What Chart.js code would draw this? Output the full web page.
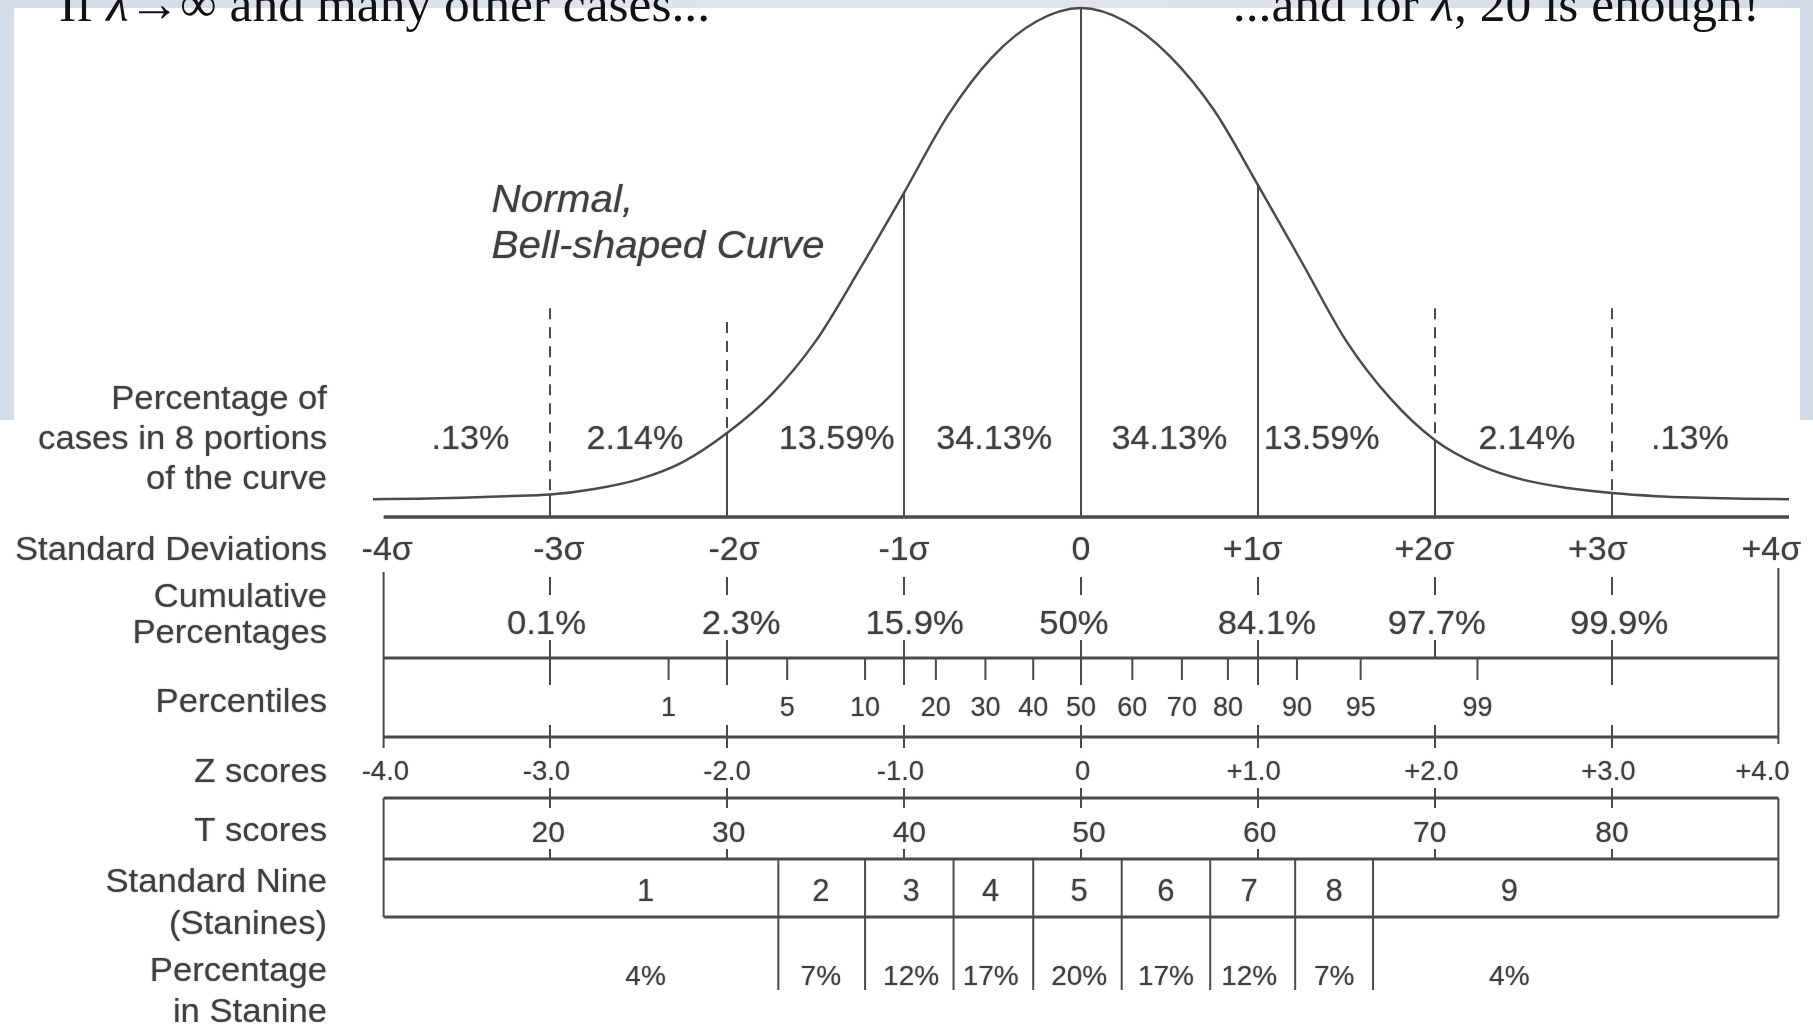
<!DOCTYPE html>
<html>
<head>
<meta charset="utf-8">
<script src="https://cdn.jsdelivr.net/npm/chart.js@4.4.1/dist/chart.umd.min.js"></script>
<style>
  html, body { margin: 0; padding: 0; background: #fff; overflow: hidden; }
  canvas { display: block; }
</style>
</head>
<body>
<canvas id="bell" width="1813" height="1028"></canvas>
<script>
// curve: x in sigma units, height relative to the peak
const curveSigma = [-4, -3.75, -3.5, -3.25, -3, -2.75, -2.5, -2.25, -2, -1.75, -1.5, -1.25, -1, -0.75, -0.5, -0.25, 0,
  0.25, 0.5, 0.75, 1, 1.25, 1.5, 1.75, 2, 2.25, 2.5, 2.75, 3, 3.25, 3.5, 3.75, 4]
const curveHeight = [0.035, 0.036, 0.038, 0.041, 0.044, 0.055, 0.074, 0.108, 0.165, 0.240, 0.345, 0.487, 0.637, 0.790, 0.904, 0.974, 1.0,
  0.974, 0.906, 0.800, 0.652, 0.499, 0.345, 0.232, 0.151, 0.102, 0.073, 0.057, 0.047, 0.041, 0.038, 0.036, 0.035]

const sigmaMarks = [-3, -2, -1, 0, 1, 2, 3]
const dashedMarks = [-3, -2, 2, 3]
const dashTop = [0.41, 0.383, 0.41, 0.41]

const portionLabels = ['.13%', '2.14%', '13.59%', '34.13%', '34.13%', '13.59%', '2.14%', '.13%']
const portionPos = [-3.45, -2.52, -1.38, -0.49, 0.50, 1.36, 2.52, 3.44]

const sigmaLabels = ['-4σ', '-3σ', '-2σ', '-1σ', '0', '+1σ', '+2σ', '+3σ', '+4σ']
const sigmaLabelPos = [-3.92, -2.95, -1.96, -1.0, 0, 0.97, 1.94, 2.92, 3.9]

const cumulativeLabels = ['0.1%', '2.3%', '15.9%', '50%', '84.1%', '97.7%', '99.9%']
const cumulativePos = [-3.02, -1.92, -0.94, -0.04, 1.05, 2.01, 3.04]

const percentileLabels = ['1', '5', '10', '20', '30', '40', '50', '60', '70', '80', '90', '95', '99']
const percentileZ = [-2.33, -1.66, -1.22, -0.82, -0.54, -0.27, 0, 0.29, 0.57, 0.83, 1.22, 1.58, 2.24]

const zLabels = ['-4.0', '-3.0', '-2.0', '-1.0', '0', '+1.0', '+2.0', '+3.0', '+4.0']
const zPos = [-3.93, -3.02, -2.0, -1.02, 0.01, 0.975, 1.98, 2.98, 3.85]

const tLabels = ['20', '30', '40', '50', '60', '70', '80']
const tPos = [-3.01, -1.99, -0.97, 0.045, 1.01, 1.97, 3.0]

const stanineLabels = ['1', '2', '3', '4', '5', '6', '7', '8', '9']
const stanineCenters = [-2.46, -1.47, -0.96, -0.51, -0.01, 0.48, 0.95, 1.43, 2.42]
const stanineBounds = [-1.71, -1.22, -0.72, -0.27, 0.23, 0.73, 1.21, 1.65]
const staninePercents = ['4%', '7%', '12%', '17%', '20%', '17%', '12%', '7%', '4%']

const rowLabels = ['Percentage of', 'cases in 8 portions', 'of the curve', 'Standard Deviations', 'Cumulative', 'Percentages',
  'Percentiles', 'Z scores', 'T scores', 'Standard Nine', '(Stanines)', 'Percentage', 'in Stanine']

const headerLeft = [['If ', false], ['λ', true], ['→∞ and many other cases...', false]]
const headerRight = [['...and for ', false], ['λ', true], [', 20 is enough!', false]]

// layout (pixels) and styles
const LAYOUT = {
  rowLabelRight: 327,
  rowLabelY: [397, 437, 477, 548, 595, 631, 700, 770, 829, 880, 922, 969, 1010],
  portionY: 437,
  sigmaLabelY: 548,
  boxTop: 572,
  cumTick: [577, 595],
  cumLabelY: 622,
  line1: 658,
  cross: [640, 685],
  pctTickBottom: 680,
  pctLabelY: 706,
  line2: 737,
  line2Tick: [725, 748],
  zLabelY: 770,
  line3: 798,
  line3Tick: [788, 808],
  tLabelY: 831,
  line4: 859,
  line4Tick: 849,
  stanineBottom: 917,
  stanineLabelY: 890,
  dividerBottom: 990,
  staninePctY: 975,
}
const boxEdges = [-3.94, 3.94]
const baselineEnd = 4.0

const TEXT = '#3f3f3f'
const INK = '#4b4b4b'
const SANS = '"Liberation Sans", Arial, Helvetica, sans-serif'
const SERIF = '"Liberation Serif", "Times New Roman", serif'

// axis ranges chosen so that 0 sigma sits at x=1081 with 177px per sigma, baseline at y=517
const X_MIN = -1081 / 177
const X_MAX = X_MIN + 1813 / 177
const Y_MAX = 517 / 509
const Y_MIN = Y_MAX - 1028 / 509

function heightAt(s) {
  return curveHeight[curveSigma.indexOf(s)]
}

function line(c, x1, y1, x2, y2, width, dash) {
  c.save()
  c.strokeStyle = INK
  c.lineWidth = width
  c.setLineDash(dash || [])
  c.beginPath()
  c.moveTo(x1, y1)
  c.lineTo(x2, y2)
  c.stroke()
  c.restore()
}

function label(c, text, x, y, size, align, stretch, italic) {
  c.save()
  c.font = `${italic ? 'italic ' : ''}${size}px ${SANS}`
  c.fillStyle = TEXT
  c.shadowColor = 'rgba(70,70,70,0.55)'
  c.shadowBlur = 1.5
  c.textBaseline = 'alphabetic'
  c.textAlign = align
  c.translate(x, y + size * 0.358)
  c.scale(stretch, 1)
  c.fillText(text, 0, 0)
  c.restore()
}

function serifRun(c, parts, x, y, align) {
  c.save()
  c.fillStyle = '#111'
  c.textBaseline = 'alphabetic'
  c.textAlign = 'left'
  const fonts = parts.map(p => `${p[1] ? 'italic ' : ''}51.5px ${SERIF}`)
  let w = 0
  parts.forEach((p, i) => { c.font = fonts[i]; w += c.measureText(p[0]).width })
  let cx = align === 'right' ? x - w : x
  parts.forEach((p, i) => {
    c.font = fonts[i]
    c.fillText(p[0], cx, y)
    cx += c.measureText(p[0]).width
  })
  c.restore()
}

const backdrop = {
  id: 'backdrop',
  beforeDraw(chart) {
    const c = chart.ctx
    const g = c.createLinearGradient(0, 0, 1813, 420)
    g.addColorStop(0, '#d4dde8')
    g.addColorStop(0.5, '#e0e6ee')
    g.addColorStop(1, '#d2dbe6')
    c.save()
    c.fillStyle = g
    c.fillRect(0, 0, 1813, 1028)
    c.fillStyle = '#ffffff'
    c.fillRect(14, 8, 1786, 1020)
    c.fillRect(0, 420, 1813, 608)
    c.restore()
  },
  afterDraw(chart) {
    const c = chart.ctx
    serifRun(c, headerLeft, 59, 21, 'left')
    serifRun(c, headerRight, 1760, 21, 'right')
  }
}

const table = {
  id: 'table',
  afterDatasetsDraw(chart) {
    const c = chart.ctx
    const X = v => chart.scales.x.getPixelForValue(v)
    const Y = v => chart.scales.y.getPixelForValue(v)
    const L = LAYOUT
    const left = X(boxEdges[0])
    const right = X(boxEdges[1])

    // curve area
    line(c, left, Y(0), X(baselineEnd), Y(0), 3.5)
    sigmaMarks.forEach(s => line(c, X(s), Y(0), X(s), Y(heightAt(s)), 2))
    dashedMarks.forEach((s, i) => line(c, X(s), Y(dashTop[i]), X(s), Y(heightAt(s)), 2, [11, 8]))
    portionLabels.forEach((t, i) => label(c, t, X(portionPos[i]), L.portionY, 33, 'center', 1.035))
    label(c, 'Normal,', X(-3.33), 198, 38, 'left', 1.065, true)
    label(c, 'Bell-shaped Curve', X(-3.33), 244, 38, 'left', 1.065, true)

    // row labels
    rowLabels.forEach((t, i) => label(c, t, L.rowLabelRight, L.rowLabelY[i], 33, 'right', 1.05))

    // sigma labels
    sigmaLabels.forEach((t, i) => label(c, t, X(sigmaLabelPos[i]), L.sigmaLabelY, 33, 'center', 1.03))

    // box edges
    line(c, left, L.boxTop, left, L.line2Tick[1], 2)
    line(c, right, L.boxTop - 4, right, L.line2Tick[1] - 4, 2)
    line(c, left, L.line3, left, L.stanineBottom, 2)
    line(c, right, L.line3, right, L.stanineBottom, 2)

    // cumulative percentages
    sigmaMarks.forEach(s => {
      line(c, X(s), L.cumTick[0], X(s), L.cumTick[1], 2)
      line(c, X(s), L.cross[0], X(s), s === 2 ? L.line1 : L.cross[1], 2)
    })
    cumulativeLabels.forEach((t, i) => label(c, t, X(cumulativePos[i]), L.cumLabelY, 33, 'center', 1.05))
    line(c, left, L.line1, right, L.line1, 3)

    // percentiles
    percentileZ.forEach(z => line(c, X(z), L.line1, X(z), L.pctTickBottom, 2))
    percentileLabels.forEach((t, i) => label(c, t, X(percentileZ[i]), L.pctLabelY, 27, 'center', 1.0))
    line(c, left, L.line2, right, L.line2, 3)
    sigmaMarks.forEach(s => line(c, X(s), L.line2Tick[0], X(s), L.line2Tick[1], 2))

    // z scores
    zLabels.forEach((t, i) => label(c, t, X(zPos[i]), L.zLabelY, 27, 'center', 1.02))
    line(c, left, L.line3, right, L.line3, 3)
    sigmaMarks.forEach(s => line(c, X(s), L.line3Tick[0], X(s), L.line3Tick[1], 2))

    // t scores
    tLabels.forEach((t, i) => label(c, t, X(tPos[i]), L.tLabelY, 30, 'center', 1.0))
    sigmaMarks.forEach(s => line(c, X(s), L.line4Tick, X(s), L.line4, 2))
    line(c, left, L.line4, right, L.line4, 3)

    // stanines
    line(c, left, L.stanineBottom, right, L.stanineBottom, 3)
    stanineBounds.forEach(b => line(c, X(b), L.line4, X(b), L.dividerBottom, 2))
    stanineLabels.forEach((t, i) => label(c, t, X(stanineCenters[i]), L.stanineLabelY, 31, 'center', 1.0))
    staninePercents.forEach((t, i) => label(c, t, X(stanineCenters[i]), L.staninePctY, 28, 'center', 1.0))
  }
}

const ctx = document.getElementById('bell')

const bellChart = new Chart(ctx, {
  type: 'scatter',
  data: {
    datasets: [{
      data: curveSigma.map((s, i) => ({ x: s, y: curveHeight[i] })),
      showLine: true,
      borderColor: INK,
      borderWidth: 2.5,
      pointRadius: 0,
      cubicInterpolationMode: 'monotone',
      tension: 0.4
    }]
  },
  options: {
    responsive: false,
    animation: false,
    devicePixelRatio: 1,
    events: [],
    layout: { padding: 0 },
    plugins: {
      legend: { display: false },
      tooltip: { enabled: false }
    },
    scales: {
      x: { type: 'linear', display: false, min: X_MIN, max: X_MAX },
      y: { type: 'linear', display: false, min: Y_MIN, max: Y_MAX }
    }
  },
  plugins: [backdrop, table]
})
</script>
</body>
</html>
